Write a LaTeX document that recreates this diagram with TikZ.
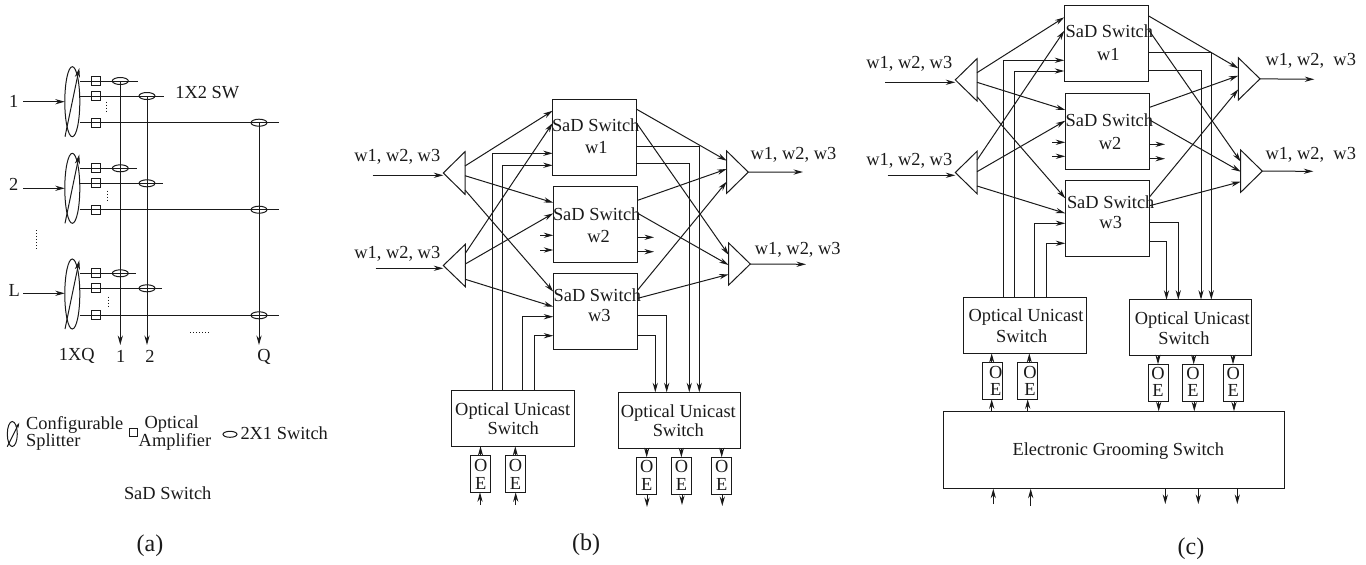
\documentclass[tikz,border=0pt]{standalone}
\usepackage{fontspec}
\setmainfont{Liberation Serif}
\usetikzlibrary{arrows.meta,shapes.geometric,fit}
\definecolor{ink}{HTML}{1A1A1A}
\tikzset{
  x=1pt,y=-1pt,
  every path/.style={line width=1pt},
  >={Stealth[length=9.5pt,width=5.2pt]},
  arr/.style={->},
  labbase/.style={font=\fontsize{18.4}{18.4}\selectfont,text=ink,inner sep=0pt,draw=none},
  lab/.style={labbase,text height=12pt,text depth=0pt},
  captext/.style={font=\fontsize{24}{24}\selectfont,text=ink,inner sep=0pt,draw=none},
  boxn/.style={draw=ink,rectangle,inner sep=0pt,outer sep=0pt},
  ghost/.style={draw=none,rectangle,inner sep=0pt,outer sep=0pt},
  amp/.style={draw=ink,rectangle,minimum size=9pt,inner sep=0pt,outer sep=0pt},
  swo/.style={draw=ink,ellipse,minimum width=16pt,minimum height=7pt,inner sep=0pt,outer sep=0pt},
  spl/.style={draw=ink,ellipse,minimum width=15pt,minimum height=70pt,inner sep=0pt,outer sep=0pt},
  dotsl/.style={dash pattern=on 1pt off 2pt,line width=0.8pt},
}
% triangle held in a named invisible rectangle
\newcommand{\triL}[5]{\node[ghost,fit={(#2,#3) (#4,#5)}] (#1) {};
  \draw (#1.north east) -- (#1.west) -- (#1.south east) -- cycle;}
\newcommand{\triR}[5]{\node[ghost,fit={(#2,#3) (#4,#5)}] (#1) {};
  \draw (#1.north west) -- (#1.east) -- (#1.south west) -- cycle;}
\newcommand{\bx}[5]{\node[boxn,fit={(#2,#3) (#4,#5)}] (#1) {};}
% one input row of the SaD switch in panel (a)
\newcommand{\splitrow}[8]{%
  \node[spl] (s#1) at (72.3,#2) {};
  \draw[arr] ([shift={(-7.3,35)}]s#1.center) -- ([shift={(7,-33.7)}]s#1.center);
  \node[amp] (a#1x) at (95.7,#3) {};
  \node[amp] (a#1y) at (95.7,#4) {};
  \node[amp] (a#1z) at (95.7,#5) {};
  \node[swo] (o#1x) at (120.3,#3) {};
  \node[swo] (o#1y) at (147,#4) {};
  \node[swo] (o#1z) at (259,#5) {};
  \coordinate (e#1x) at (#6,#3);
  \coordinate (e#1y) at (#7,#4);
  \coordinate (e#1z) at (#8,#5);
  \draw (s#1.east |- a#1x) -- (e#1x);
  \draw (s#1.east |- a#1y) -- (e#1y);
  \draw (s#1.east |- a#1z) -- (e#1z);
}
\begin{document}
\begin{tikzpicture}[color=ink]
\useasboundingbox (0,0) rectangle (1366,565);
%%%%%%%%%%%% panel (a)
\splitrow{1}{101.7}{81}{96}{122.7}{137.7}{164.3}{279.3}
\splitrow{2}{188.3}{168.3}{183.3}{209.7}{136.7}{162.7}{279.3}
\splitrow{3}{294}{273.3}{288.3}{315.3}{135.7}{162.3}{278.7}
\coordinate (i1) at (23,101.7);
\coordinate (i2) at (23,188.3);
\coordinate (i3) at (23,293.3);
\draw[arr] (i1) -- (s1.west |- i1);
\draw[arr] (i2) -- (s2.west |- i2);
\draw[arr] (i3) -- (s3.west |- i3);
\coordinate (q1) at (120.3,345);
\coordinate (q2) at (147,345);
\coordinate (q3) at (259,345);
\draw[arr] (o1x.center) -- (q1);
\draw[arr] (o1y.center) -- (q2);
\draw[arr] (o1z.center) -- (q3);
\draw[dotsl] (106.7,101.7) -- (106.7,111.7);
\draw[dotsl] (107,190.7) -- (107,200);
\draw[dotsl] (108,296.7) -- (108,306);
\draw[dotsl] (36.7,230) -- (36.7,250);
\draw[dotsl] (190,332.7) -- (210,332.7);
\node[lab] (t1) at (13.7,101) {1};
\node[lab] (t2) at (13.7,184) {2};
\node[lab] (tL) at (14.3,290.7) {L};
\node[lab] (tsw) at (207.3,92.3) {1X2 SW};
\node[lab] (t1xq) at (76.7,354) {1XQ};
\node[lab] (tq1) at (120.7,356) {1};
\node[lab] (tq2) at (150,356) {2};
\node[lab] (tqq) at (264,355) {Q};
% legend
\node[draw=ink,ellipse,minimum width=10pt,minimum height=25pt,inner sep=0pt] (ls) at (12.3,434) {};
\draw[-{Stealth[length=5pt,width=3pt]}] ([shift={(-5,12.7)}]ls.center) -- ([shift={(7,-11.3)}]ls.center);
\node[lab,anchor=west] (lc) at (25.7,423) {Configurable};
\node[lab,anchor=west] (lsp) at (25.7,440) {Splitter};
\node[amp,minimum size=8pt] (la) at (133.7,432) {};
\node[lab] (lo) at (171.7,422.3) {Optical};
\node[lab] (lam) at (175,440.7) {Amplifier};
\node[swo,minimum width=14pt,minimum height=6pt] (lsw) at (230,434.3) {};
\node[lab,anchor=west] (l2x) at (240,433.3) {2X1 Switch};
\node[lab] (lsad) at (167.7,493) {SaD Switch};
\node[captext] (ca) at (150,546) {(a)};
%%%%%%%%%%%% panel (b)
\bx{bw1}{552.7}{99}{636.7}{175.3}
\bx{bw2}{553.3}{186.3}{637.7}{262}
\bx{bw3}{553.3}{273.7}{637.7}{349.3}
\triL{bt1}{443.3}{151.7}{465}{194.3}
\triL{bt2}{443.3}{244.3}{465.3}{286.7}
\triR{br1}{726.7}{151}{748.3}{193.3}
\triR{br2}{728.7}{243}{750.3}{285}
\bx{bou1}{451.7}{390.7}{574}{446.3}
\bx{bou2}{618}{392.3}{740}{448.3}
\node[lab] (b1a) at (595.7,125) {SaD Switch};
\node[lab] (b1b) at (596.3,147.3) {w1};
\node[lab] (b2a) at (596.7,214) {SaD Switch};
\node[lab] (b2b) at (598.7,236) {w2};
\node[lab] (b3a) at (597.3,295) {SaD Switch};
\node[lab] (b3b) at (599.3,315.7) {w3};
\node[lab] (bl1) at (397.3,155.7) {w1, w2, w3};
\node[lab] (bl2) at (397.3,252.7) {w1, w2, w3};
\node[lab,anchor=west] (bl3) at (750,153.3) {w1, w2, w3};
\node[lab,anchor=west] (bl4) at (754.3,248.3) {w1, w2, w3};
\node[lab] (bu1) at (512.7,409) {Optical Unicast};
\node[lab] (bu2) at (513.3,428) {Switch};
\node[lab] (bu3) at (678.3,411.3) {Optical Unicast};
\node[lab] (bu4) at (678.3,430.7) {Switch};
\node[captext] (cb) at (586,544.3) {(b)};
\coordinate (bi1) at (372.7,175.3);
\coordinate (bi2) at (375.7,268.3);
\coordinate (bo1) at (803,172);
\coordinate (bo2) at (806,264.3);
\draw[arr] (bi1) -- (bt1.west |- bi1);
\draw[arr] (bi2) -- (bt2.west |- bi2);
\draw[arr] (br1.east) -- (bo1);
\draw[arr] (br2.east) -- (bo2);
\draw[arr] (bt1.east |- 0,166) -- (bw1.west |- 0,110.7);
\draw[arr] (bt1.east |- 0,175.7) -- (bw2.west |- 0,202.7);
\draw[arr] (bt1.east |- 0,190) -- (bw3.west |- 0,291.7);
\draw[arr] (bt2.east |- 0,253.3) -- (bw1.west |- 0,123);
\draw[arr] (bt2.east |- 0,264) -- (bw2.west |- 0,213.3);
\draw[arr] (bt2.east |- 0,279.3) -- (bw3.west |- 0,306.7);
\draw[arr] (bw1.east |- 0,109.3) -- (br1.west |- 0,160.7);
\draw[arr] (bw1.east |- 0,123.3) -- (br2.west |- 0,255);
\draw[arr] (bw2.east |- 0,200.3) -- (br1.west |- 0,169);
\draw[arr] (bw2.east |- 0,213.3) -- (br2.west |- 0,265);
\draw[arr] (bw3.east |- 0,290) -- (br1.west |- 0,181.7);
\draw[arr] (bw3.east |- 0,298.3) -- (br2.west |- 0,274.3);
\draw[arr] (bou1.north -| 492.3,0) |- (bw1.west |- 0,153.3);
\draw[arr] (bou1.north -| 502.3,0) |- (bw1.west |- 0,165.3);
\draw[arr] (bou1.north -| 522.3,0) |- (bw3.west |- 0,316.7);
\draw[arr] (bou1.north -| 534.3,0) |- (bw3.west |- 0,335.7);
\draw[arr] (bw1.east |- 0,146.7) -| (bou2.north -| 699.3,0);
\draw[arr] (bw1.east |- 0,163.3) -| (bou2.north -| 689.3,0);
\draw[arr] (bw3.east |- 0,315.3) -| (bou2.north -| 666.7,0);
\draw[arr] (bw3.east |- 0,335) -| (bou2.north -| 655.3,0);
\coordinate (bs1) at (540,235.3);
\coordinate (bs2) at (540,250);
\coordinate (bs3) at (654,237.3);
\coordinate (bs4) at (654,251.7);
\draw[arr] (bs1) -- (bw2.west |- bs1);
\draw[arr] (bs2) -- (bw2.west |- bs2);
\draw[arr] (bw2.east |- bs3) -- (bs3);
\draw[arr] (bw2.east |- bs4) -- (bs4);
% OE boxes (b)
\bx{boe1}{470.7}{455.7}{490.3}{492.3}
\bx{boe2}{505.3}{455.7}{525.3}{492.3}
\bx{boe3}{636.7}{457.3}{656.7}{494.3}
\bx{boe4}{671.7}{457.3}{691}{494.3}
\bx{boe5}{711.7}{457.3}{731.7}{494.3}
\node[labbase,align=center] (bx1) at (480.7,474) {O\\[-0.5pt]E};
\node[labbase,align=center] (bx2) at (515.5,474) {O\\[-0.5pt]E};
\node[labbase,align=center] (bx3) at (646.7,475.5) {O\\[-0.5pt]E};
\node[labbase,align=center] (bx4) at (681.5,475.5) {O\\[-0.5pt]E};
\node[labbase,align=center] (bx5) at (721.7,475.5) {O\\[-0.5pt]E};
\draw[arr] (boe1.north) -- (bou1.south -| boe1.north);
\draw[arr] (boe2.north) -- (bou1.south -| boe2.north);
\draw[arr] (bou2.south -| boe3.north) -- (boe3.north);
\draw[arr] (bou2.south -| boe4.north) -- (boe4.north);
\draw[arr] (bou2.south -| boe5.north) -- (boe5.north);
\coordinate (bf1) at (480,505);
\coordinate (bf2) at (515.7,505);
\coordinate (bf3) at (647,507);
\coordinate (bf4) at (682,505);
\coordinate (bf5) at (722.3,506);
\draw[arr] (bf1) -- (boe1.south -| bf1);
\draw[arr] (bf2) -- (boe2.south -| bf2);
\draw[arr] (boe3.south -| bf3) -- (bf3);
\draw[arr] (boe4.south -| bf4) -- (bf4);
\draw[arr] (boe5.south -| bf5) -- (bf5);
%%%%%%%%%%%% panel (c)
\bx{cw1}{1064.3}{5.7}{1148.7}{81.7}
\bx{cw2}{1065.3}{93.3}{1149.7}{169}
\bx{cw3}{1065.3}{180.7}{1149.7}{256.3}
\triL{ct1}{955.3}{58.7}{977}{101}
\triL{ct2}{955.3}{151.3}{977}{193.7}
\triR{cr1}{1238.3}{57.7}{1260}{100}
\triR{cr2}{1240.7}{150}{1262.3}{192.3}
\bx{cou1}{963.3}{297.7}{1086}{353.3}
\bx{cou2}{1129.3}{299.7}{1251.7}{355.3}
\bx{ceg}{943}{411.3}{1284.7}{488.7}
\node[lab] (c1a) at (1109.3,31.7) {SaD Switch};
\node[lab] (c1b) at (1108.3,54) {w1};
\node[lab] (c2a) at (1109.3,120.7) {SaD Switch};
\node[lab] (c2b) at (1110,143.3) {w2};
\node[lab] (c3a) at (1110.7,202.7) {SaD Switch};
\node[lab] (c3b) at (1110.7,222.3) {w3};
\node[lab] (cl1) at (909.3,62.7) {w1, w2, w3};
\node[lab] (cl2) at (909.3,159.3) {w1, w2, w3};
\node[lab,anchor=west] (cl3) at (1265,59.3) {w1, w2,\ \ w3};
\node[lab,anchor=west] (cl4) at (1265,153.3) {w1, w2,\ \ w3};
\node[lab] (cu1) at (1026,315.7) {Optical Unicast};
\node[lab] (cu2) at (1021.7,336.7) {Switch};
\node[lab] (cu3) at (1192.3,318.3) {Optical Unicast};
\node[lab] (cu4) at (1184,338.3) {Switch};
\node[lab] (ceglab) at (1118.3,449) {Electronic Grooming Switch};
\node[captext] (cc) at (1191,549) {(c)};
\coordinate (ci1) at (885,82.3);
\coordinate (ci2) at (887.7,175.3);
\coordinate (co1) at (1314.3,79.3);
\coordinate (co2) at (1313.3,171.3);
\draw[arr] (ci1) -- (ct1.west |- ci1);
\draw[arr] (ci2) -- (ct2.west |- ci2);
\draw[arr] (cr1.east) -- (co1);
\draw[arr] (cr2.east) -- (co2);
\draw[arr] (ct1.east |- 0,72.7) -- (cw1.west |- 0,17.3);
\draw[arr] (ct1.east |- 0,82.3) -- (cw2.west |- 0,110);
\draw[arr] (ct1.east |- 0,96.7) -- (cw3.west |- 0,198.3);
\draw[arr] (ct2.east |- 0,160) -- (cw1.west |- 0,30.7);
\draw[arr] (ct2.east |- 0,171.7) -- (cw2.west |- 0,120.7);
\draw[arr] (ct2.east |- 0,186) -- (cw3.west |- 0,213.3);
\draw[arr] (cw1.east |- 0,16) -- (cr1.west |- 0,68.3);
\draw[arr] (cw1.east |- 0,30) -- (cr2.west |- 0,161.7);
\draw[arr] (cw2.east |- 0,107.3) -- (cr1.west |- 0,75.7);
\draw[arr] (cw2.east |- 0,120) -- (cr2.west |- 0,171.7);
\draw[arr] (cw3.east |- 0,196.7) -- (cr1.west |- 0,89.3);
\draw[arr] (cw3.east |- 0,205.7) -- (cr2.west |- 0,181.7);
\draw[arr] (cou1.north -| 1003.7,0) |- (cw1.west |- 0,60.3);
\draw[arr] (cou1.north -| 1014.3,0) |- (cw1.west |- 0,71);
\draw[arr] (cou1.north -| 1034.3,0) |- (cw3.west |- 0,223.3);
\draw[arr] (cou1.north -| 1046,0) |- (cw3.west |- 0,243.3);
\draw[arr] (cw1.east |- 0,52.7) -| (cou2.north -| 1211.3,0);
\draw[arr] (cw1.east |- 0,70) -| (cou2.north -| 1201,0);
\draw[arr] (cw3.east |- 0,222.7) -| (cou2.north -| 1178.3,0);
\draw[arr] (cw3.east |- 0,241.7) -| (cou2.north -| 1166.5,0);
\coordinate (cs1) at (1052.3,142.3);
\coordinate (cs2) at (1052.3,156.3);
\coordinate (cs3) at (1165,144.3);
\coordinate (cs4) at (1165,158.7);
\draw[arr] (cs1) -- (cw2.west |- cs1);
\draw[arr] (cs2) -- (cw2.west |- cs2);
\draw[arr] (cw2.east |- cs3) -- (cs3);
\draw[arr] (cw2.east |- cs4) -- (cs4);
% OE boxes (c)
\bx{coe1}{982.3}{362.3}{1002.7}{399.3}
\bx{coe2}{1017.3}{362.3}{1037.3}{399.3}
\bx{coe3}{1148.3}{364.3}{1168.3}{401.3}
\bx{coe4}{1182.7}{364.3}{1203}{401.3}
\bx{coe5}{1223.3}{364.3}{1243.7}{401.3}
\node[labbase,align=center] (cx1) at (995.7,380.5) {O\\[-1.5pt]E};
\node[labbase,align=center] (cx2) at (1030,380.5) {O\\[-1.5pt]E};
\node[labbase,align=center] (cx3) at (1158,382.3) {O\\[-1.5pt]E};
\node[labbase,align=center] (cx4) at (1193,382.3) {O\\[-1.5pt]E};
\node[labbase,align=center] (cx5) at (1233.3,382.3) {O\\[-1.5pt]E};
\coordinate (cn1) at (991.7,353.3);
\coordinate (cn2) at (1029.3,353.3);
\coordinate (cn3) at (1158,355.3);
\coordinate (cn4) at (1193.7,355.3);
\coordinate (cn5) at (1233,355.3);
\draw[arr] (coe1.north -| cn1) -- (cou1.south -| cn1);
\draw[arr] (coe2.north -| cn2) -- (cou1.south -| cn2);
\draw[arr] (cou2.south -| cn3) -- (coe3.north -| cn3);
\draw[arr] (cou2.south -| cn4) -- (coe4.north -| cn4);
\draw[arr] (cou2.south -| cn5) -- (coe5.north -| cn5);
\draw[arr] (ceg.north -| 991.7,0) -- (coe1.south -| 991.7,0);
\draw[arr] (ceg.north -| 1027.7,0) -- (coe2.south -| 1027.7,0);
\draw[arr] (coe3.south -| 1158.7,0) -- (ceg.north -| 1158.7,0);
\draw[arr] (coe4.south -| 1194.3,0) -- (ceg.north -| 1194.3,0);
\draw[arr] (coe5.south -| 1234,0) -- (ceg.north -| 1234,0);
\coordinate (cb1) at (993.3,504);
\coordinate (cb2) at (1030.7,506);
\coordinate (cb3) at (1165.3,504);
\coordinate (cb4) at (1198.3,504);
\coordinate (cb5) at (1237.3,504);
\draw[arr] (cb1) -- (ceg.south -| cb1);
\draw[arr] (cb2) -- (ceg.south -| cb2);
\draw[arr] (ceg.south -| cb3) -- (cb3);
\draw[arr] (ceg.south -| cb4) -- (cb4);
\draw[arr] (ceg.south -| cb5) -- (cb5);
\end{tikzpicture}
\end{document}
